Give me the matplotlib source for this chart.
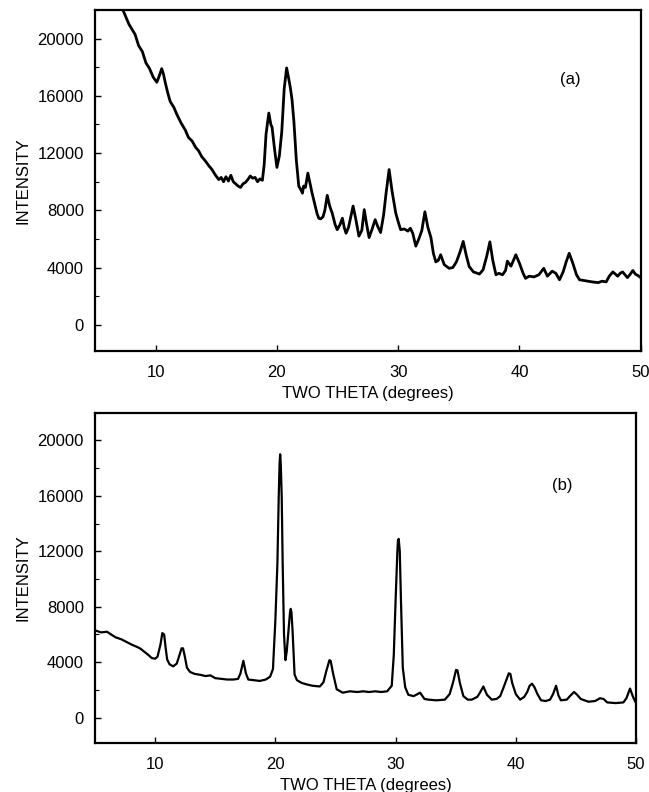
import matplotlib
matplotlib.use("Agg")
import matplotlib.pyplot as plt
from matplotlib.ticker import MultipleLocator

plt.rcParams["font.family"] = ["Liberation Sans", "DejaVu Sans"]

# panel (a): two theta (deg) and intensity
theta_a = [
    5.0, 6.0, 7.0, 7.35, 7.8, 8.3, 8.6, 8.9, 9.2, 9.5,
    9.8, 10.1, 10.3, 10.5, 10.65, 10.8, 11.0, 11.2, 11.5, 11.75,
    12.1, 12.45, 12.7, 13.0, 13.3, 13.55, 13.8, 14.1, 14.4, 14.65,
    14.9, 15.2, 15.4, 15.6, 15.8, 16.0, 16.2, 16.4, 16.6, 16.8,
    17.0, 17.2, 17.4, 17.6, 17.8, 18.0, 18.2, 18.4, 18.6, 18.8,
    18.95, 19.1, 19.33, 19.5, 19.6, 19.8, 20.0, 20.2, 20.4, 20.6,
    20.8, 20.95, 21.1, 21.25, 21.4, 21.6, 21.8, 22.0, 22.1, 22.2,
    22.35, 22.55, 22.75, 22.9, 23.1, 23.3, 23.45, 23.6, 23.8, 23.95,
    24.15, 24.35, 24.56, 24.8, 24.97, 25.2, 25.4, 25.55, 25.7, 25.9,
    26.1, 26.28, 26.5, 26.76, 27.0, 27.2, 27.4, 27.6, 27.85, 28.1,
    28.3, 28.55, 28.8, 29.0, 29.25, 29.5, 29.8, 30.0, 30.2, 30.5,
    30.8, 31.0, 31.2, 31.45, 31.7, 31.95, 32.2, 32.45, 32.7, 32.9,
    33.1, 33.3, 33.5, 33.8, 34.2, 34.5, 34.8, 35.1, 35.36, 35.6,
    35.85, 36.2, 36.7, 37.0, 37.3, 37.56, 37.8, 38.06, 38.3, 38.6,
    38.85, 39.0, 39.3, 39.5, 39.7, 40.0, 40.3, 40.5, 40.8, 41.2,
    41.6, 42.0, 42.3, 42.7, 43.0, 43.3, 43.6, 43.85, 44.1, 44.4,
    44.7, 44.95, 45.3, 45.6, 46.0, 46.5, 46.8, 47.15, 47.4, 47.7,
    48.1, 48.3, 48.5, 48.9, 49.1, 49.35, 49.55, 49.76, 50.0,
]
intensity_a = [
    26500, 24500, 22600, 21900, 21000, 20300, 19500, 19100, 18300, 17900,
    17300, 16950, 17400, 17900, 17500, 16900, 16200, 15600, 15200, 14700,
    14100, 13600, 13100, 12850, 12400, 12150, 11750, 11450, 11100, 10850,
    10500, 10150, 10300, 10000, 10350, 10050, 10450, 10000, 9850, 9700,
    9600, 9850, 9950, 10150, 10400, 10250, 10300, 10000, 10200, 10100,
    11200, 13300, 14800, 14000, 13800, 12300, 11000, 11800, 13500, 16500,
    17950, 17300, 16600, 15700, 14200, 11500, 9700, 9400, 9200, 9700,
    9600, 10600, 9800, 9200, 8500, 7800, 7450, 7400, 7550, 8000,
    9050, 8300, 7800, 7000, 6650, 7000, 7450, 6800, 6400, 6800,
    7600, 8300, 7400, 6200, 6600, 8050, 7000, 6100, 6700, 7350,
    6900, 6450, 7700, 9200, 10850, 9300, 7800, 7200, 6650, 6700,
    6550, 6750, 6400, 5500, 6000, 6600, 7900, 6800, 6100, 5000,
    4400, 4500, 4900, 4200, 3950, 4000, 4400, 5100, 5830, 4900,
    4080, 3700, 3550, 3850, 4800, 5800, 4500, 3500, 3600, 3500,
    3800, 4450, 4100, 4500, 4900, 4300, 3600, 3250, 3400, 3350,
    3500, 3950, 3400, 3750, 3600, 3150, 3700, 4400, 5000, 4300,
    3500, 3150, 3100, 3050, 3000, 2950, 3050, 3000, 3400, 3700,
    3400, 3600, 3700, 3300, 3500, 3800, 3550, 3450, 3300,
]

# panel (b)
theta_b = [
    5.0, 5.5, 6.0, 6.25, 6.7, 7.2, 7.64, 8.1, 8.5, 8.74,
    9.1, 9.4, 9.72, 10.0, 10.2, 10.45, 10.6, 10.75, 10.88, 11.0,
    11.2, 11.5, 11.8, 12.05, 12.2, 12.32, 12.45, 12.65, 12.9, 13.3,
    13.7, 14.2, 14.6, 15.0, 15.5, 16.0, 16.5, 16.9, 17.1, 17.34,
    17.55, 17.75, 18.2, 18.7, 19.2, 19.56, 19.8, 20.0, 20.17, 20.28,
    20.35, 20.4, 20.45, 20.53, 20.61, 20.72, 20.84, 20.95, 21.1, 21.22,
    21.28, 21.34, 21.43, 21.6, 21.8, 22.2, 22.6, 23.1, 23.7, 24.0,
    24.25, 24.5, 24.6, 24.8, 25.1, 25.6, 26.2, 26.8, 27.3, 27.8,
    28.3, 28.8, 29.3, 29.68, 29.85, 30.0, 30.15, 30.2, 30.26, 30.35,
    30.45, 30.6, 30.8, 31.06, 31.5, 32.04, 32.4, 32.73, 33.4, 34.1,
    34.5, 34.8, 35.03, 35.15, 35.35, 35.64, 36.0, 36.34, 36.8, 37.05,
    37.3, 37.6, 38.0, 38.4, 38.7, 38.97, 39.25, 39.42, 39.55, 39.7,
    40.0, 40.36, 40.7, 40.95, 41.15, 41.35, 41.55, 41.8, 42.1, 42.5,
    42.85, 43.1, 43.35, 43.55, 43.75, 44.24, 44.55, 44.85, 45.1, 45.4,
    46.04, 46.6, 47.0, 47.3, 47.6, 48.3, 48.95, 49.2, 49.5, 49.75,
    50.0,
]
intensity_b = [
    6300, 6150, 6200, 6050, 5800, 5650, 5450, 5250, 5100, 5000,
    4750, 4550, 4300, 4250, 4400, 5300, 6100, 6000, 5000, 4200,
    3850, 3700, 3900, 4600, 5000, 5000, 4500, 3600, 3300, 3150,
    3100, 3000, 3050, 2850, 2800, 2750, 2750, 2800, 3200, 4100,
    3200, 2750, 2700, 2650, 2750, 2950, 3500, 7000, 11100, 15900,
    18300, 19000, 18300, 15900, 11100, 6000, 4150, 4800, 6400, 7600,
    7850, 7600, 6300, 3100, 2700, 2500, 2400, 2300, 2250, 2550,
    3400, 4150, 4100, 3200, 2050, 1800, 1900, 1850, 1900, 1850,
    1900, 1850, 1900, 2300, 4500, 8400, 12000, 12800, 12900, 12000,
    8400, 3600, 2200, 1650, 1550, 1800, 1350, 1300, 1250, 1300,
    1700, 2600, 3450, 3400, 2500, 1550, 1300, 1300, 1500, 1850,
    2250, 1650, 1300, 1350, 1550, 2150, 2800, 3200, 3150, 2500,
    1700, 1300, 1500, 1850, 2300, 2450, 2200, 1700, 1250, 1200,
    1300, 1700, 2300, 1600, 1250, 1300, 1600, 1850, 1650, 1350,
    1150, 1200, 1400, 1350, 1100, 1050, 1100, 1400, 2100, 1500,
    1050,
]

x_ticks = [10, 20, 30, 40, 50]
y_ticks = [0, 4000, 8000, 12000, 16000, 20000]


def style_axes(ax):
    ax.set_xlim(5, 50)
    ax.set_ylim(-1850, 22000)
    ax.set_xticks(x_ticks)
    ax.set_yticks(y_ticks)
    ax.yaxis.set_minor_locator(MultipleLocator(2000))
    ax.tick_params(direction="in", labelsize=12, width=1.0, length=4)
    ax.tick_params(axis="x", pad=10)
    ax.tick_params(axis="y", pad=8)
    ax.tick_params(which="minor", direction="in", length=3, width=0.8)
    for spine in ax.spines.values():
        spine.set_linewidth(1.6)
    ax.set_xlabel("TWO THETA (degrees)", fontsize=12, labelpad=4)
    ax.set_ylabel("INTENSITY", fontsize=12, labelpad=5)


def main():
    fig = plt.figure(figsize=(6.49, 7.92), dpi=100)
    ax_a = fig.add_axes([0.1464, 0.5564, 0.8409, 0.4310])
    ax_b = fig.add_axes([0.1464, 0.0615, 0.8336, 0.4174])

    ax_a.plot(theta_a, intensity_a, color="black", lw=2.0)
    ax_b.plot(theta_b, intensity_b, color="black", lw=1.6)

    for ax, tag, pos in [(ax_a, "(a)", (44.2, 17150)), (ax_b, "(b)", (43.9, 16760))]:
        style_axes(ax)
        ax.text(pos[0], pos[1], tag, fontsize=12, ha="center", va="center")

    fig.savefig("out.png", dpi=100)
    plt.close(fig)


if __name__ == "__main__":
    main()
